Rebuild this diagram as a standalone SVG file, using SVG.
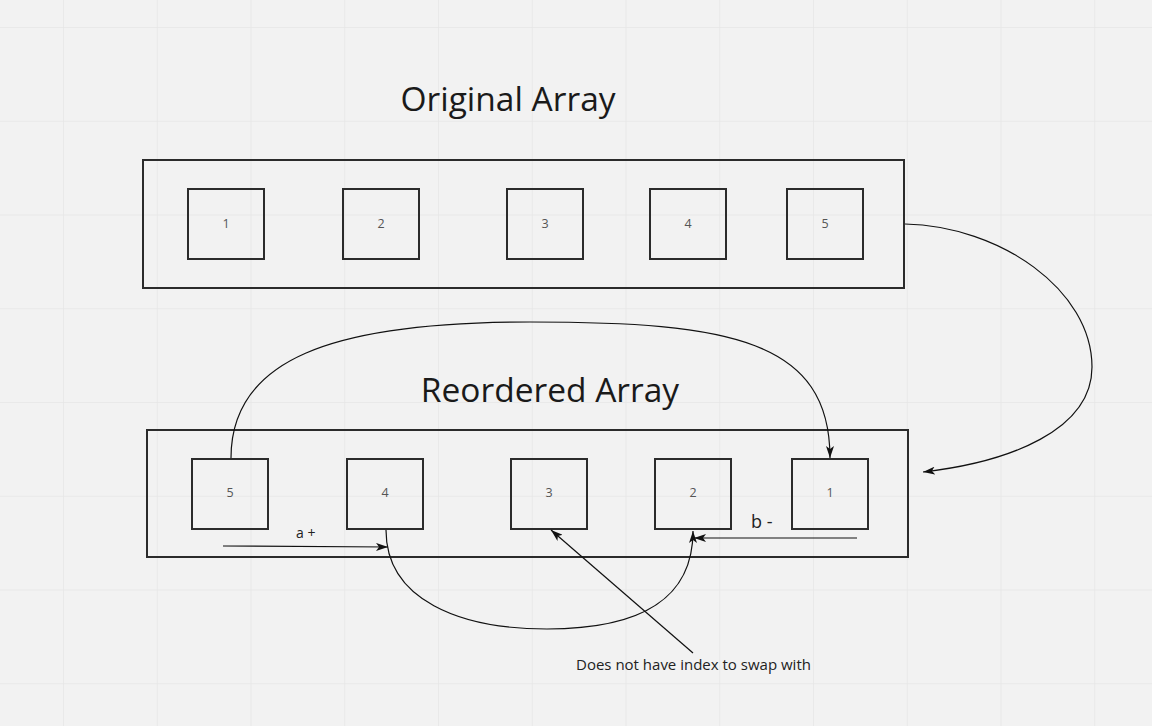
<svg xmlns="http://www.w3.org/2000/svg" width="1152" height="726" viewBox="0 0 1152 726">
<defs>
<pattern id="grid" x="63" y="27" width="93.75" height="93.75" patternUnits="userSpaceOnUse">
<path d="M0,0 V93.75 M0,0 H93.75" fill="none" stroke="#e6e6e6" stroke-width="1.5"/>
</pattern>
<marker id="ah" viewBox="0 0 12 8" refX="12" refY="4" markerWidth="12" markerHeight="8" markerUnits="userSpaceOnUse" orient="auto">
<path d="M0,0 L12,4 L0,8 L3,4 Z" fill="#111"/>
</marker>
</defs>
<style>
.outer{fill:none;stroke:#2b2b2b;stroke-width:2}
.box{fill:none;stroke:#2b2b2b;stroke-width:2}
.num{font-family:"Open Sans","Liberation Sans",sans-serif;font-size:12.5px;fill:#555;text-anchor:middle}
.title{font-family:"Open Sans","Liberation Sans",sans-serif;font-size:33.5px;fill:#1a1a1a;text-anchor:middle}
.lbl{font-family:"Open Sans","Liberation Sans",sans-serif;fill:#222}
.con{fill:none;stroke:#111;stroke-width:1.2}
</style>
<rect width="1152" height="726" fill="#f2f2f2"/>
<rect width="1152" height="726" fill="url(#grid)"/>

<g id="title-original"><text class="title" x="508" y="111">Original Array</text></g>
<g id="title-reordered"><text class="title" x="550" y="402">Reordered Array</text></g>

<g id="original-array"><rect class="outer" x="143" y="160" width="761" height="128"/></g>
<g id="o1"><rect class="box" x="188" y="189" width="76" height="70"/><text class="num" x="226" y="228">1</text></g>
<g id="o2"><rect class="box" x="343" y="189" width="76" height="70"/><text class="num" x="381" y="228">2</text></g>
<g id="o3"><rect class="box" x="507" y="189" width="76" height="70"/><text class="num" x="545" y="228">3</text></g>
<g id="o4"><rect class="box" x="650" y="189" width="76" height="70"/><text class="num" x="688" y="228">4</text></g>
<g id="o5"><rect class="box" x="787" y="189" width="76" height="70"/><text class="num" x="825" y="228">5</text></g>

<g id="reordered-array"><rect class="outer" x="147" y="430" width="761" height="127"/></g>
<g id="r5"><rect class="box" x="192" y="459" width="76" height="70"/><text class="num" x="230" y="497">5</text></g>
<g id="r4"><rect class="box" x="347" y="459" width="76" height="70"/><text class="num" x="385" y="497">4</text></g>
<g id="r3"><rect class="box" x="511" y="459" width="76" height="70"/><text class="num" x="549" y="497">3</text></g>
<g id="r2"><rect class="box" x="655" y="459" width="76" height="70"/><text class="num" x="693" y="497">2</text></g>
<g id="r1"><rect class="box" x="792" y="459" width="76" height="70"/><text class="num" x="830" y="497">1</text></g>

<g id="labels">
<text class="lbl" x="296" y="538" font-size="14">a +</text>
<text class="lbl" x="751" y="528" font-size="18">b -</text>
<text class="lbl" x="576" y="670" font-size="15">Does not have index to swap with</text>
</g>

<g id="connectors">
<path class="con" d="M905,224 C1000,226 1092,290 1092,367 C1092,430 1010,462 923,472" marker-end="url(#ah)"/>
<path class="con" d="M231,458 C231,360 330,322 530,322 C730,322 830,340 830,458" marker-end="url(#ah)"/>
<path class="con" d="M223,546 L388,547" marker-end="url(#ah)"/>
<path class="con" d="M386,530 C386,600 460,629 547,629 C640,629 693,600 693,531" marker-end="url(#ah)"/>
<path class="con" d="M857,538 L694,538" marker-end="url(#ah)"/>
<path class="con" d="M693,653 L551,530" marker-end="url(#ah)"/>
</g>
</svg>
